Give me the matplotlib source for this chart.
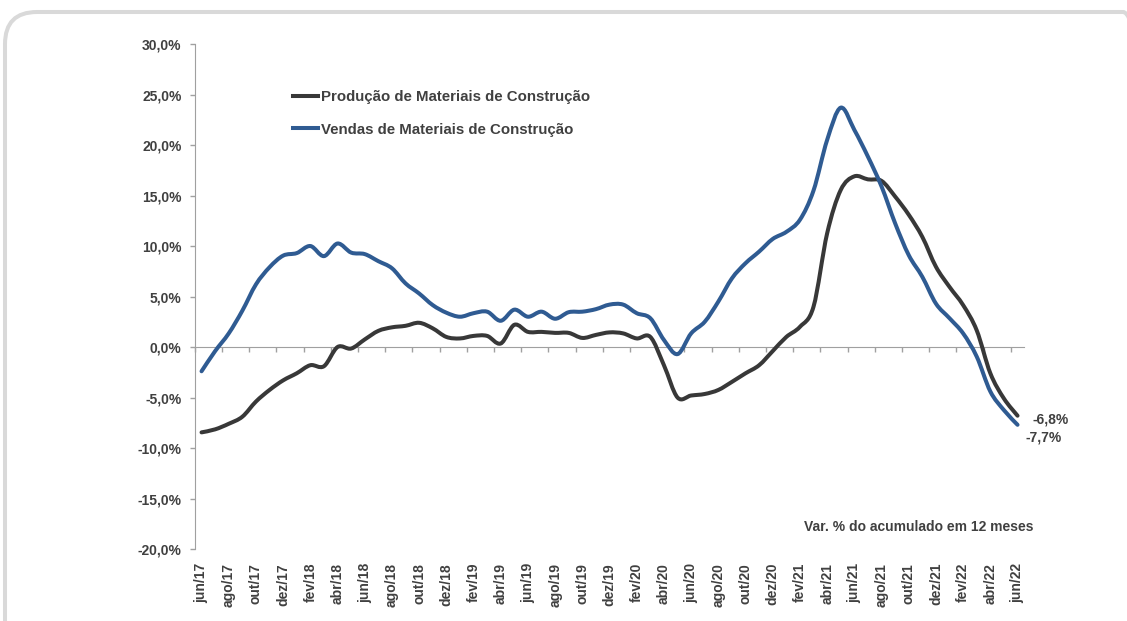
import matplotlib
matplotlib.use("Agg")
import matplotlib.pyplot as plt
from matplotlib.path import Path
from matplotlib.patches import PathPatch, FancyBboxPatch
from matplotlib.lines import Line2D
import numpy as np

# monthly series, jun/17 .. jun/22 (var. % acumulado em 12 meses)
producao = [-8.45, -8.15, -7.6, -6.9, -5.4, -4.25, -3.3, -2.6, -1.8, -1.9,
            0.0, -0.15, 0.75, 1.6, 1.95, 2.1, 2.4, 1.85, 1.0, 0.85,
            1.1, 1.1, 0.35, 2.2, 1.5, 1.5, 1.4, 1.4, 0.9, 1.2,
            1.45, 1.35, 0.85, 1.0, -1.8, -5.0, -4.8, -4.65, -4.25, -3.45,
            -2.6, -1.8, -0.4, 1.0, 2.0, 4.0, 11.25, 15.55, 16.9, 16.6,
            16.45, 14.9, 13.1, 10.9, 7.95, 5.95, 4.15, 1.65, -2.6, -5.1,
            -6.8]
vendas = [-2.4, -0.4, 1.35, 3.6, 6.2, 7.9, 9.05, 9.3, 10.0, 9.0,
          10.25, 9.35, 9.2, 8.5, 7.8, 6.3, 5.3, 4.15, 3.4, 3.0,
          3.35, 3.5, 2.6, 3.7, 3.0, 3.5, 2.8, 3.45, 3.5, 3.75,
          4.2, 4.2, 3.35, 2.85, 0.7, -0.7, 1.35, 2.5, 4.5, 6.8,
          8.3, 9.45, 10.7, 11.4, 12.6, 15.5, 20.5, 23.7, 21.5, 18.85,
          15.9, 12.25, 9.1, 6.95, 4.3, 2.85, 1.35, -0.95, -4.4, -6.25,
          -7.7]
tick_labels = ["jun/17", "ago/17", "out/17", "dez/17", "fev/18", "abr/18",
               "jun/18", "ago/18", "out/18", "dez/18", "fev/19", "abr/19",
               "jun/19", "ago/19", "out/19", "dez/19", "fev/20", "abr/20",
               "jun/20", "ago/20", "out/20", "dez/20", "fev/21", "abr/21",
               "jun/21", "ago/21", "out/21", "dez/21", "fev/22", "abr/22",
               "jun/22"]
series_names = ["Produção de Materiais de Construção",
                "Vendas de Materiais de Construção"]
end_labels = ["-6,8%", "-7,7%"]

GRAY = "#383838"
BLUE = "#2f5b92"
TEXT = "#404040"
AXIS = "#a0a0a0"


def smooth_path(x, y):
    """Excel-like smoothed line through the points (Catmull-Rom as Bezier)."""
    n = len(x)
    verts = [(x[0], y[0])]
    codes = [Path.MOVETO]
    for k in range(n - 1):
        p0 = max(k - 1, 0)
        p3 = min(k + 2, n - 1)
        c1 = (x[k] + (x[k + 1] - x[p0]) / 6, y[k] + (y[k + 1] - y[p0]) / 6)
        c2 = (x[k + 1] - (x[p3] - x[k]) / 6, y[k + 1] - (y[p3] - y[k]) / 6)
        verts += [c1, c2, (x[k + 1], y[k + 1])]
        codes += [Path.CURVE4] * 3
    return Path(verts, codes)


def main():
    plt.rcParams["font.family"] = ["Liberation Sans", "DejaVu Sans"]
    plt.rcParams["font.weight"] = "bold"

    fig = plt.figure(figsize=(11.27, 6.21), dpi=100)
    fig.patch.set_facecolor("white")

    # rounded light frame
    frame = FancyBboxPatch((0.05, -0.5), 11.5, 6.59,
                           boxstyle="round,pad=0,rounding_size=0.32",
                           transform=fig.dpi_scale_trans, facecolor="none",
                           edgecolor="#d9d9d9", linewidth=2.9, clip_on=False)
    fig.add_artist(frame)

    ax = fig.add_axes([0.1728, 0.1159, 0.7361, 0.8132])
    ax.patch.set_alpha(0.)
    x = np.arange(len(producao))

    for vals, color in [(producao, GRAY), (vendas, BLUE)]:
        ax.add_patch(PathPatch(smooth_path(x, vals), facecolor="none", edgecolor=color,
                               linewidth=2.9, capstyle="round", joinstyle="round"))

    ax.set_xlim(-0.5, 60.5)
    ax.set_ylim(-20, 30)

    yt = np.arange(-20, 31, 5)
    ax.set_yticks(yt)
    ax.set_yticklabels([f"{v:.1f}%".replace(".", ",") for v in yt])
    ax.tick_params(axis="y", direction="out", length=3.5, width=1, color=AXIS,
                   labelsize=10, labelcolor=TEXT, pad=6)

    ax.set_xticks(x[::2])
    ax.set_xticklabels(tick_labels, rotation=90)
    ax.tick_params(axis="x", length=0, labelsize=10, labelcolor=TEXT, pad=10)
    for lab in ax.get_xticklabels():
        lab.set_x(lab.get_position()[0] + 0.2)

    for side in ["top", "right", "bottom"]:
        ax.spines[side].set_visible(False)
    ax.spines["left"].set_color(AXIS)

    # category axis drawn at zero with ticks between categories
    ymin, ymax = ax.get_ylim()
    zero = ax.secondary_xaxis((0 - ymin) / (ymax - ymin))
    zero.set_xticks(np.arange(-0.5, 60, 2))
    zero.set_xticklabels([])
    zero.tick_params(direction="out", length=3.5, width=1, color=AXIS)
    for sp in zero.spines.values():
        sp.set_color(AXIS)

    handles = [Line2D([], [], color=GRAY, lw=2.9), Line2D([], [], color=BLUE, lw=2.9)]
    leg = ax.legend(handles, series_names, loc="upper left", bbox_to_anchor=(0.118, 0.909),
                    frameon=False, fontsize=10.8, handlelength=1.7, handletextpad=0.2,
                    labelspacing=1.25, borderpad=0, borderaxespad=0)
    for t in leg.get_texts():
        t.set_color(TEXT)

    ax.annotate(end_labels[0], xy=(x[-1], producao[-1]), xytext=(11, -3),
                textcoords="offset points", ha="left", va="center",
                fontsize=10, color=TEXT)
    ax.annotate(end_labels[1], xy=(x[-1], vendas[-1]), xytext=(5.5, -9.5),
                textcoords="offset points", ha="left", va="center",
                fontsize=10, color=TEXT)

    ax.text(1.0105, 0.044, "Var. % do acumulado em 12 meses", transform=ax.transAxes,
            ha="right", va="center", fontsize=10, color=TEXT)

    fig.savefig("out.png", dpi=100)
    plt.close(fig)


if __name__ == "__main__":
    main()
